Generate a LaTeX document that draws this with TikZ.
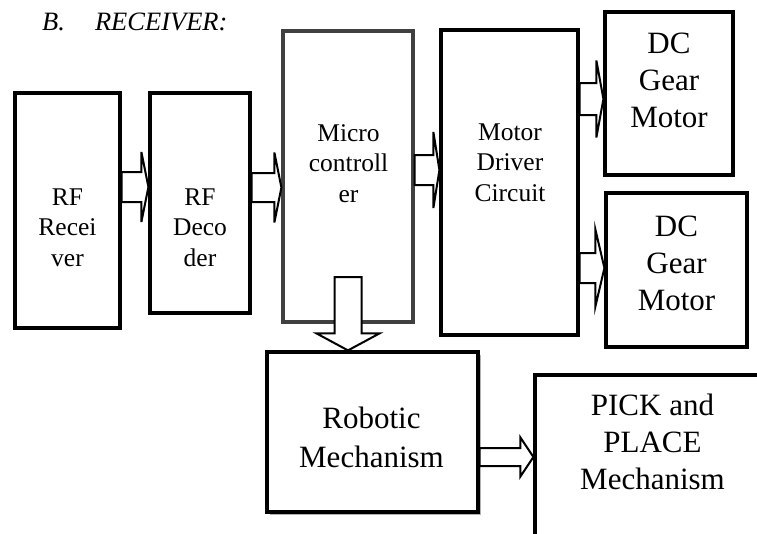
\documentclass[tikz,border=0pt]{standalone}
\usepackage{fontspec}
\setmainfont{Liberation Serif}
\usetikzlibrary{calc,shadows}

% hollow block arrows: tail, tip, shaft half width, head half width, head length
\newcommand{\harrow}[5]{%
  \draw[blockarrow] let \p1=(#1), \p2=(#2) in
    (\x1,\y1+#3pt) -- (\x2-#5pt,\y1+#3pt) -- (\x2-#5pt,\y1+#4pt) -- (\x2,\y1)
    -- (\x2-#5pt,\y1-#4pt) -- (\x2-#5pt,\y1-#3pt) -- (\x1,\y1-#3pt) -- cycle;}
\newcommand{\varrow}[5]{%
  \draw[blockarrow] let \p1=(#1), \p2=(#2) in
    (\x1-#3pt,\y1) -- (\x1-#3pt,\y2+#5pt) -- (\x1-#4pt,\y2+#5pt) -- (\x1,\y2)
    -- (\x1+#4pt,\y2+#5pt) -- (\x1+#3pt,\y2+#5pt) -- (\x1+#3pt,\y1) -- cycle;}

\begin{document}
\begin{tikzpicture}[x=1pt,y=-1pt,
  blk/.style={draw,line width=3.2pt,fill=white,inner sep=0pt},
  txt/.style={align=center,font=\fontsize{25.5}{30.5}\selectfont},
  bigtxt/.style={align=center,font=\fontsize{31}{37}\selectfont},
  blockarrow/.style={draw,line width=2pt,fill=white,line join=miter}]
  \useasboundingbox (0,0) rectangle (757,533);
  \clip (0,0) rectangle (757,533);
  % heading
  \node[anchor=base west,inner sep=0pt,font=\fontsize{26.5}{30}\selectfont\itshape] (title) at (42,30) {B.\hspace{30pt}RECEIVER:};
  % blocks
  \node[blk,minimum width=105,minimum height=235] (rfrx) at (67.5,210.5) {};
  \node[blk,minimum width=100,minimum height=220] (rfdec) at (200,203) {};
  \node[blk,draw=black!75,minimum width=130,minimum height=291] (micro) at (348,176.5) {};
  \node[blk,minimum width=137,minimum height=305] (driver) at (509.5,182.5) {};
  \node[blk,minimum width=128,minimum height=163] (dc1) at (669,93.5) {};
  \node[blk,minimum width=141,minimum height=154] (dc2) at (676.5,270) {};
  \node[blk,minimum width=211,minimum height=160,
        drop shadow={shadow xshift=3pt,shadow yshift=-3pt,fill=black!30,opacity=1}] (robot) at (372.5,432) {};
  \node[blk,minimum width=265,minimum height=225] (pick) at (667.5,487.5) {};
  % labels
  \node[txt] (rfrx-t) at (67.5,227.5) {RF\\Recei\\ver};
  \node[txt] (rfdec-t) at (200,227.5) {RF\\Deco\\der};
  \node[txt] (micro-t) at (348.5,163.5) {Micro\\controll\\er};
  \node[txt] (driver-t) at (510,162.5) {Motor\\Driver\\Circuit};
  \node[bigtxt] (dc1-t) at (669,80) {DC\\Gear\\Motor};
  \node[bigtxt] (dc2-t) at (676.5,263) {DC\\Gear\\Motor};
  \node[bigtxt,font=\fontsize{31}{39}\selectfont] (robot-t) at (371.5,437) {Robotic\\Mechanism};
  \node[bigtxt] (pick-t) at (652.5,441.5) {PICK and\\PLACE\\Mechanism};
  % arrows
  \harrow{rfrx.east |- 0,187}{rfdec.west |- 0,187}{15}{35}{7}
  \harrow{rfdec.east |- 0,187.5}{micro.west |- 0,187.5}{14.5}{35}{7}
  \harrow{micro.east |- 0,170}{driver.west |- 0,170}{15}{38}{6}
  \harrow{driver.east |- 0,99}{dc1.west |- 0,99}{16}{38.5}{7}
  \harrow{driver.east |- 0,268}{dc2.west |- 0,268}{15}{38.5}{9}
  \varrow{micro.center |- 0,277}{micro.south |- robot.north}{13.5}{31.5}{17}
  \harrow{robot.east |- 0,457}{pick.west |- 0,457}{9}{19.5}{13}
\end{tikzpicture}
\end{document}
